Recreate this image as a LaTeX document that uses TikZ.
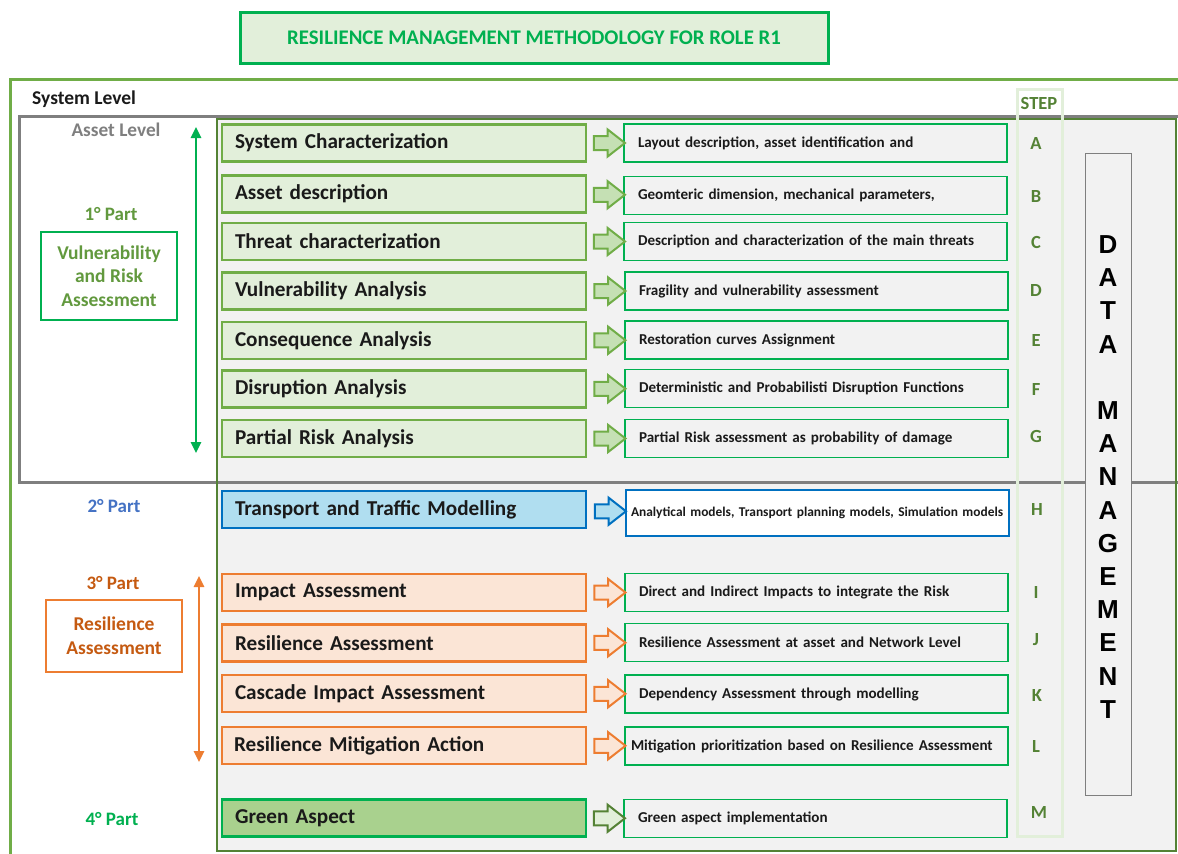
\documentclass[tikz,border=0pt]{standalone}
\usepackage{fontspec}
\setmainfont{Carlito}
\newfontfamily\arialfont{Liberation Sans}
\usetikzlibrary{shapes.arrows,arrows.meta,calc}

\definecolor{grnA}{HTML}{00B050}
\definecolor{grnL}{HTML}{E2EFDA}
\definecolor{olive}{HTML}{70AD47}
\definecolor{grnD}{HTML}{548235}
\definecolor{grnT}{HTML}{62993E}
\definecolor{greyB}{HTML}{7F7F7F}
\definecolor{bgGrey}{HTML}{F2F2F2}
\definecolor{blueB}{HTML}{0070C0}
\definecolor{blueF}{HTML}{B0DEF0}
\definecolor{blueT}{HTML}{4472C4}
\definecolor{orgB}{HTML}{ED7D31}
\definecolor{orgF}{HTML}{FBE5D6}
\definecolor{orgT}{HTML}{C55A11}
\definecolor{grnM}{HTML}{A9D18E}
\definecolor{arrG}{HTML}{C5E0B4}
\definecolor{txtD}{HTML}{1A1A1A}

\tikzset{
  lbox/.style={draw=olive, fill=grnL, line width=2.5pt, anchor=west, outer sep=0pt,
    minimum height=37pt, text width=338pt, inner xsep=13pt, align=left,
    text=txtD, font=\bfseries\fontsize{21.2}{22}\selectfont},
  rbox/.style={draw=grnA, fill=bgGrey, line width=1.2pt, anchor=west, outer sep=0pt,
    minimum height=38pt, text width=355pt, inner xsep=14pt, align=left,
    text=txtD, font=\bfseries\fontsize{15.1}{16}\selectfont},
  blockarrow/.style={single arrow, draw=olive, fill=arrG, line width=2pt,
    minimum height=31pt, inner xsep=0pt, inner ysep=6pt, single arrow head extend=6.5pt,
    single arrow tip angle=76},
  steplbl/.style={text=grnD, font=\bfseries\fontsize{18.5}{20}\selectfont},
  partlbl/.style={font=\bfseries\fontsize{19}{21}\selectfont},
  sidebox/.style={draw, line width=1.2pt, align=center, outer sep=0pt},
  spanarrow/.style={line width=2.5pt, {Triangle[length=11pt,width=10pt]}-{Triangle[length=11pt,width=10pt]}}
}

\begin{document}
\begin{tikzpicture}[x=1pt,y=-1pt]
\useasboundingbox (0,0) rectangle (1178,854);
\fill[white] (0,0) rectangle (1178,854);

% title banner
\node[draw=grnA, fill=grnL, line width=3pt, minimum width=588pt, minimum height=51pt,
  text=grnA, font=\bfseries\fontsize{20.8}{22}\selectfont] (title) at (534,37.5)
  {RESILIENCE MANAGEMENT METHODOLOGY FOR ROLE R1};

% system level frame
\draw[olive, line width=3pt] (10,79) rectangle (1200,880);
\node[anchor=west, inner sep=0pt, text=txtD, font=\bfseries\fontsize{19.5}{21}\selectfont] (syslvl) at (32,99) {System Level};

% working area
\fill[bgGrey] (217,119) rectangle (1176,851);

% asset level frame
\draw[greyB, line width=3pt] (19,116) rectangle (1200,482);
\node[text=greyB, font=\bfseries\fontsize{19.3}{21}\selectfont] (assetlvl) at (116,130) {Asset Level};

% working area border
\draw[grnD, line width=2.5pt] (217,119) rectangle (1176,851);

% step column
\draw[grnL, line width=3pt] (1017,89) rectangle (1062,836);
\node[steplbl] (steph) at (1039,103) {STEP};

% data management column
\node[draw=greyB, fill=bgGrey, line width=1pt, minimum width=46pt, minimum height=642pt] (dm) at (1108,474) {};
\node[align=center, text=black, font=\arialfont\bfseries\fontsize{26}{33.2}\selectfont] (dmtext) at (1108,477)
  {D\\A\\T\\A\\[33.2pt]M\\A\\N\\A\\G\\E\\M\\E\\N\\T};

% left column: methodology steps
\node[lbox] (lA) at (222,143) {System Characterization};
\node[lbox] (lB) at (222,194) {Asset description};
\node[lbox] (lC) at (222,241.5) {Threat characterization};
\node[lbox] (lD) at (222,291) {Vulnerability Analysis};
\node[lbox] (lE) at (222,340.5) {Consequence Analysis};
\node[lbox] (lF) at (222,389) {Disruption Analysis};
\node[lbox] (lG) at (222,438.5) {Partial Risk Analysis};
\node[lbox, draw=blueB, fill=blueF] (lH) at (222,509.5) {Transport and Traffic Modelling};
\node[lbox, draw=orgB, fill=orgF] (lI) at (222,592.5) {Impact Assessment};
\node[lbox, draw=orgB, fill=orgF] (lJ) at (222,643) {Resilience Assessment};
\node[lbox, draw=orgB, fill=orgF] (lK) at (222,693.5) {Cascade Impact Assessment};
\node[lbox, draw=orgB, fill=orgF, inner xsep=12pt, text width=340pt] (lL) at (222,745.5) {Resilience Mitigation Action};
\node[lbox, draw=grnA, fill=grnM] (lM) at (222,818) {Green Aspect};

% right column: descriptions
\node[rbox] (rA) at (624,143) {Layout description, asset identification and};
\node[rbox] (rB) at (624,195.5) {Geomteric dimension, mechanical parameters,};
\node[rbox] (rC) at (624,241.5) {Description and characterization of the main threats};
\node[rbox] (rD) at (625,291) {Fragility and vulnerability assessment};
\node[rbox] (rE) at (625,340) {Restoration curves Assignment};
\node[rbox] (rF) at (625,388.5) {Deterministic and Probabilisti Disruption Functions};
\node[rbox] (rG) at (625,438.5) {Partial Risk assessment as probability of damage};
\node[rbox, draw=blueB, fill=white, minimum height=46pt, inner xsep=5pt, text width=373pt,
  font=\bfseries\fontsize{13.4}{15}\selectfont] (rH) at (626,513) {Analytical models, Transport planning models, Simulation models};
\node[rbox] (rI) at (625,592.5) {Direct and Indirect Impacts to integrate the Risk};
\node[rbox] (rJ) at (625,642.5) {Resilience Assessment at asset and Network Level};
\node[rbox] (rK) at (625,694) {Dependency Assessment through modelling};
\node[rbox, inner xsep=6pt, text width=371pt] (rL) at (625,746) {Mitigation prioritization based on Resilience Assessment};
\node[rbox] (rM) at (624,818.5) {Green aspect implementation};

% block arrows between steps and descriptions
\foreach \s in {A,B,C,D,E,F,G}{
  \node[blockarrow] (ar\s) at ($(l\s.east)!0.5!(r\s.west)$) {};
}
\node[blockarrow, draw=blueB, fill=blueF] (arH) at ($(lH.east)!0.5!(rH.west)$) {};
\foreach \s in {I,J,K,L}{
  \node[blockarrow, draw=orgB, fill=orgF] (ar\s) at ($(l\s.east)!0.5!(r\s.west)$) {};
}
\node[blockarrow, draw=grnD, fill=grnL] (arM) at ($(lM.east)!0.5!(rM.west)$) {};

% step letters
\node[steplbl] (sA) at (1036,143) {A};
\node[steplbl] (sB) at (1036,196) {B};
\node[steplbl] (sC) at (1036,242) {C};
\node[steplbl] (sD) at (1036,290) {D};
\node[steplbl] (sE) at (1036,340) {E};
\node[steplbl] (sF) at (1036,389) {F};
\node[steplbl] (sG) at (1036,436) {G};
\node[steplbl] (sH) at (1037,509) {H};
\node[steplbl] (sI) at (1036,592) {I};
\node[steplbl] (sJ) at (1036,640) {J};
\node[steplbl] (sK) at (1037,695) {K};
\node[steplbl] (sL) at (1036,746) {L};
\node[steplbl] (sM) at (1039,812) {M};

% part 1
\node[partlbl, text=grnT] (p1) at (111,214) {1° Part};
\node[sidebox, draw=grnA, text=grnT, minimum width=136pt, minimum height=88pt,
  font=\bfseries\fontsize{19.5}{23.5}\selectfont] (vra) at (109,276)
  {Vulnerability\\and Risk\\Assessment};
\coordinate (g1) at (196,127);
\coordinate (g2) at (196,453);
\draw[spanarrow, grnA] (g1) -- (g2);

% part 2
\node[partlbl, text=blueT] (p2) at (114,506) {2° Part};

% part 3
\node[partlbl, text=orgT] (p3) at (113,583) {3° Part};
\node[sidebox, draw=orgB, text=orgT, minimum width=136pt, minimum height=72pt,
  font=\bfseries\fontsize{19.5}{24}\selectfont] (ra) at (114,636)
  {Resilience\\Assessment};
\coordinate (o1) at (199,576);
\coordinate (o2) at (199,762);
\draw[spanarrow, orgB] (o1) -- (o2);

% part 4
\node[partlbl, text=grnA] (p4) at (112,819) {4° Part};
\end{tikzpicture}
\end{document}
